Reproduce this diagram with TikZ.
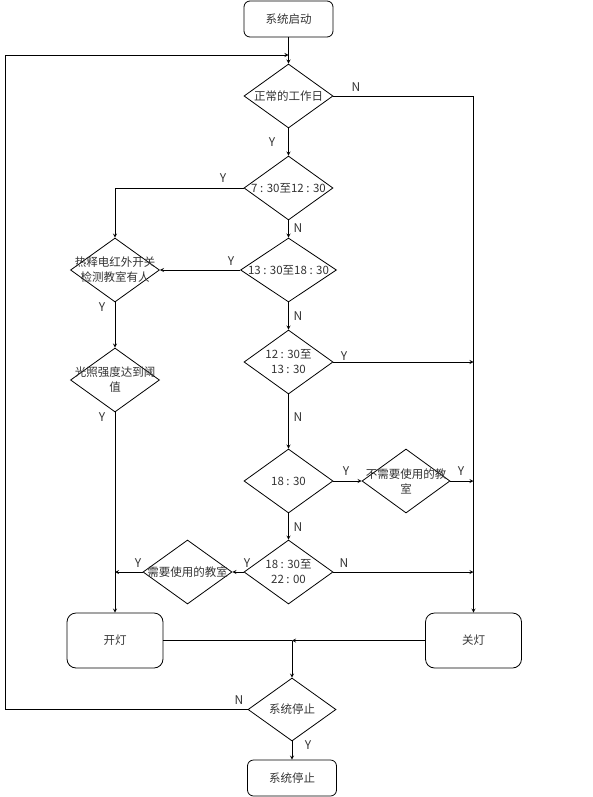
\documentclass[tikz,border=0pt]{standalone}
\usepackage{fontspec}
\setmainfont{Noto Sans CJK SC}
\usetikzlibrary{shapes.geometric}

\tikzset{
    startstop/.style={draw, rounded corners=6pt, minimum width=89pt, minimum height=36pt, inner sep=0pt},
    lampbox/.style={draw, rounded corners=9pt, minimum width=96pt, minimum height=55pt, inner sep=0pt},
    decision/.style={draw, diamond, minimum width=89pt, minimum height=64pt, inner sep=0pt},
    dtext/.style={align=center, text=black!80},
    yn/.style={font=\fontsize{12}{14}\selectfont, text=black!80}
}

\begin{document}
\begin{tikzpicture}[>=stealth, x=1pt, y=-1pt, line width=0.8pt,
        font=\fontsize{11.5}{15}\selectfont]
        \useasboundingbox (0,0) rectangle (593,797);

        % start box and first check
        \node[startstop, text=black!80] (start) at (288.5,19) {系统启动};
        \node[decision, label={[dtext]center:正常的工作日}] (workday) at (288.5,96) {};

        % the time checks in the middle column
        \node[decision, label={[dtext]center:7 : 30至12 : 30}] (morning) at (288.5,188) {};
        \node[decision, minimum width=96pt, label={[dtext]center:13 : 30至18 : 30}] (afternoon) at (288.5,270) {};
        \node[decision, label={[dtext]center:12 : 30至\\13 : 30}] (noon) at (288.5,362) {};
        \node[decision, label={[dtext]center:18 : 30}] (evening) at (288.5,481) {};
        \node[decision, label={[dtext]center:18 : 30至\\22 : 00}] (night) at (288.5,572) {};

        % the checks on the left
        \node[decision, label={[dtext]center:热释电红外开关\\检测教室有人}] (person) at (115,270) {};
        \node[decision, label={[dtext]center:光照强度达到阈\\值}] (light) at (115,380) {};
        \node[decision, label={[dtext]center:需要使用的教室}] (used) at (187.5,572) {};

        % the check on the right
        \node[decision, minimum width=88pt, label={[dtext]center:不需要使用的教\\室}] (unused) at (406,481) {};

        % the two lamp boxes
        \node[lampbox, text=black!80] (onlamp) at (115,640.5) {开灯};
        \node[lampbox, text=black!80] (offlamp) at (473.5,640.5) {关灯};

        % stop check and end box
        \node[decision, minimum width=88pt, minimum height=63pt, label={[dtext]center:系统停止}] (halt) at (292,709.5) {};
        \node[startstop, text=black!80] (stop) at (292,778) {系统停止};

        % points of the loop and the join
        \coordinate (loopin) at (288.5,55);
        \coordinate (leftrail) at (5.5,55);
        \coordinate (merge) at (292,640.5);

        % the main column
        \draw[->] (start) -- (workday);
        \draw[->] (workday) -- (morning);
        \draw[->] (morning) -- (afternoon);
        \draw[->] (afternoon) -- (noon);
        \draw[->] (noon) -- (evening);
        \draw[->] (evening) -- (night);

        % branches to the left
        \draw[->] (morning.west) -| (person.north);
        \draw[->] (afternoon.west) -- (person.east);
        \draw[->] (person) -- (light);
        \draw[->] (light.south) -- (onlamp.north);
        \draw[->] (night.west) -- (used.east);
        \draw[->] (used.west) -- (used.west -| onlamp.north);

        % branches to the right
        \draw[->] (workday.east) -| (offlamp.north);
        \draw[->] (noon.east) -- (noon.east -| offlamp.north);
        \draw[->] (evening.east) -- (unused.west);
        \draw[->] (unused.east) -- (unused.east -| offlamp.north);
        \draw[->] (night.east) -- (night.east -| offlamp.north);

        % the join and the end
        \draw (onlamp.east) -- (merge);
        \draw[->] (offlamp.west) -- (merge);
        \draw[->] (merge) -- (halt.north);
        \draw[->] (halt) -- (stop);

        % the loop back to the top
        \draw[->] (halt.west) -| (leftrail) -- (loopin);

        % the Y and N labels
        \node[yn] (nworkday) at (356,87) {N};
        \node[yn] (yworkday) at (272,142) {Y};
        \node[yn] (ymorning) at (223,178) {Y};
        \node[yn] (nmorning) at (298,228) {N};
        \node[yn] (yafternoon) at (231,261) {Y};
        \node[yn] (yperson) at (102,307) {Y};
        \node[yn] (nafternoon) at (298,316) {N};
        \node[yn] (ynoon) at (344,356) {Y};
        \node[yn] (ylight) at (102,417) {Y};
        \node[yn] (nnoon) at (298,417) {N};
        \node[yn] (yevening) at (346,471) {Y};
        \node[yn] (yunused) at (461,471) {Y};
        \node[yn] (nevening) at (298,527) {N};
        \node[yn] (yused) at (138,563) {Y};
        \node[yn] (ynight) at (247,563) {Y};
        \node[yn] (nnight) at (344,563) {N};
        \node[yn] (nhalt) at (239,700) {N};
        \node[yn] (yhalt) at (308,745) {Y};
\end{tikzpicture}
\end{document}
